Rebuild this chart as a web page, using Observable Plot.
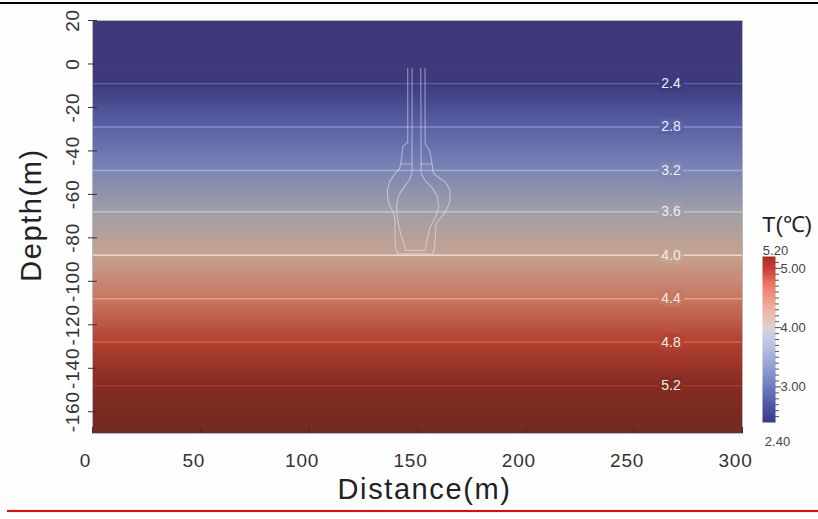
<!DOCTYPE html>
<html><head><meta charset="utf-8">
<script src="https://cdn.jsdelivr.net/npm/d3@7"></script>
<script src="https://cdn.jsdelivr.net/npm/@observablehq/plot@0.6"></script>
<style>
body{margin:0;background:#fefefe;}
#wrap{position:relative;width:818px;height:519px;overflow:hidden;font-family:"Liberation Sans",Arial,sans-serif;}
#topline{position:absolute;left:0;top:2px;width:818px;height:2px;background:#000;}
#botline{position:absolute;left:7px;top:510px;width:811px;height:2px;background:#ff0000;}
#main{position:absolute;left:0;top:0;}
#cbar{position:absolute;left:740px;top:200px;}
</style>
</head><body>
<div id="wrap"><div id="main"></div><div id="cbar"></div><div id="topline"></div><div id="botline"></div></div>
<script>
// ---- data ----
const xTicks = [0, 50, 100, 150, 200, 250, 300];
const yTicks = [20, 0, -20, -40, -60, -80, -100, -120, -140, -160];

// vertical temperature profile (depth m -> T °C)
const profileDepth = [20, -9, -29, -49, -68, -88, -108, -128, -148, -170];
const profileTemp  = [2.2, 2.4, 2.8, 3.2, 3.6, 4.0, 4.4, 4.8, 5.2, 5.4];

// isotherms
const contourLevels = [2.4, 2.8, 3.2, 3.6, 4.0, 4.4, 4.8, 5.2];
const contourDepths = [-9, -29, -49, -68, -88, -108, -128, -148];
const contourColors = ["#6b68a8", "#8f98cc", "#a9b3da", "#cfd0d6", "#f4e0d6", "#eca48c", "#f26a50", "#b63b33"];
const labelDistance = 267;

// map colour ramp
const mapDomain = [2.2, 2.4, 2.8, 3.2, 3.6, 4.0, 4.4, 4.8, 5.2, 5.4];
const mapColors = ["#3f3878", "#3c3a7e", "#5a62a6", "#7c86b4", "#a29ea6", "#c6a290", "#c77762", "#b2412f", "#852b22", "#722a22"];

// colour bar
const cbDomain = [2.4, 2.7, 3.0, 3.4, 3.8, 4.0, 4.3, 4.7, 5.0, 5.2];
const cbColors = ["#3a3a8c", "#5058a4", "#6d7cbc", "#98a6d6", "#c4cae6", "#dcd2d0", "#f0b4a4", "#ee7c6a", "#cc3c34", "#a82a26"];
const cbMajor = [3, 4, 5];
const cbMinor = [2.5,2.6,2.7,2.8,2.9,3.1,3.2,3.3,3.4,3.5,3.6,3.7,3.8,3.9,4.1,4.2,4.3,4.4,4.5,4.6,4.7,4.8,4.9,5.1];
const cbEnds = [2.4, 5.2];

// cavern outline (distance m, depth m)
const cavernOuter = [
 [145.5, -2], [145.5, -36], [143.2, -38], [142.6, -44], [141.8, -48], [139.2, -51], [137.2, -54], [136.0, -58],
 [136.3, -62], [137.3, -65.5], [139.0, -68.5], [139.6, -72], [139.6, -80], [140.0, -85.5], [141.0, -87.3],
 [157.0, -87.3], [157.8, -85], [158.2, -80], [158.5, -74], [160.6, -71], [163.2, -67.5], [165.0, -63], [165.0, -58],
 [163.0, -54.5], [159.5, -52], [157.2, -50], [156.6, -45], [155.6, -40], [154.0, -37.5], [153.5, -36], [153.5, -2]
];
const cavernInner = [
 [147.5, -2], [147.5, -50], [146.2, -53.5], [143.5, -57], [141.3, -60.5], [140.4, -65], [140.6, -70], [141.4, -74.5],
 [142.6, -79.5], [144.8, -85.8], [153.5, -85.8], [154.6, -80], [155.6, -75.5], [158.3, -70.5], [159.8, -66],
 [159.2, -61], [156.8, -57], [153.4, -53.5], [151.7, -50.5], [151.5, -2]
];
const cavernRungs = [
 [[142.6, -46], [147.5, -46]],
 [[151.5, -46], [156.6, -46]]
];

// ---- build tables ----
const profile = profileDepth.flatMap((d, i) => [{x: 0, y: d, t: profileTemp[i]}, {x: 300, y: d, t: profileTemp[i]}]);
const contours = contourLevels.map((t, i) => ({t, y: contourDepths[i], c: contourColors[i]}));
const cavern = [cavernOuter, cavernInner, ...cavernRungs].flatMap((pts, id) => pts.map(([x, y]) => ({id, x, y})));
const cbPoints = cbEnds.flatMap(t => [{x: 0, y: t, t}, {x: 1, y: t, t}]);

const font = "'Liberation Sans', Arial, sans-serif";

const main = Plot.plot({
  width: 818, height: 519,
  marginLeft: 92, marginRight: 76, marginTop: 20, marginBottom: 86,
  x: {domain: [0, 300], axis: null},
  y: {domain: [-170, 20], axis: null},
  color: {type: "linear", domain: mapDomain, range: mapColors, clamp: true, interpolate: "rgb"},
  style: {fontFamily: font, background: "transparent", color: "#333"},
  marks: [
    Plot.raster(profile, {x: "x", y: "y", fill: "t", interpolate: "barycentric"}),
    ...contours.map(c => Plot.ruleY([c.y], {stroke: c.c, strokeWidth: 1.3, strokeOpacity: 0.85})),
    Plot.line(cavern, {x: "x", y: "y", z: "id", stroke: "#eef0ff", strokeOpacity: 0.5, strokeWidth: 1.1}),
    Plot.text(contours, {x: () => labelDistance, y: "y", text: d => d.t.toFixed(1), fill: "#f0f0f0",
      stroke: "t", strokeWidth: 7, paintOrder: "stroke", fontSize: 14}),
    Plot.frame({stroke: "#b8b8c8", strokeWidth: 1}),
    Plot.axisY(yTicks, {tickSize: 9, dx: 5, tickFormat: () => "", label: null, stroke: "#333"}),
    Plot.axisX(xTicks, {tickSize: 6, dy: -6, tickFormat: () => "", label: null, stroke: "#333"}),
    Plot.text(yTicks, {y: d => d, frameAnchor: "left", text: d => String(d), rotate: -90, dx: -20,
      textAnchor: "middle", lineAnchor: "middle", fontSize: 19, fill: "#333"}),
    Plot.text(xTicks, {x: d => d, frameAnchor: "bottom", text: d => String(d), dy: 27, dx: -7,
      lineAnchor: "middle", fontSize: 19, fill: "#333"}),
    Plot.text(["Distance(m)"], {frameAnchor: "bottom", dy: 65, dx: 7, lineAnchor: "bottom", fontSize: 29, fill: "#222"}),
    Plot.text(["Depth(m)"], {frameAnchor: "left", rotate: -90, dx: -52, dy: -12, lineAnchor: "bottom", textAnchor: "middle", fontSize: 29, fill: "#222"})
  ]
});
d3.select(main).selectAll("text").filter(function() {
  const s = this.textContent; return s === "Distance(m)" || s === "Depth(m)";
}).attr("letter-spacing", "1.6px");
d3.select(main).selectAll("text").filter(function() { return /^-?\d+$/.test(this.textContent); }).attr("letter-spacing", "0.8px");
document.getElementById("main").append(main);

const cb = Plot.plot({
  width: 78, height: 250,
  marginTop: 56, marginBottom: 28, marginLeft: 22, marginRight: 43,
  x: {domain: [0, 1], axis: null},
  y: {domain: [2.4, 5.2], axis: null},
  color: {type: "linear", domain: cbDomain, range: cbColors, clamp: true, interpolate: "rgb"},
  style: {fontFamily: font, background: "transparent", color: "#444"},
  marks: [
    Plot.raster(cbPoints, {x: "x", y: "y", fill: "t", interpolate: "barycentric"}),
    Plot.axisY(cbMinor, {anchor: "right", tickSize: 4, dx: -1, tickFormat: () => "", label: null, stroke: "#555"}),
    Plot.axisY(cbMajor, {anchor: "right", tickSize: 6, dx: -1, tickPadding: 0, tickFormat: d => d.toFixed(2),
      label: null, fontSize: 13, color: "#444"}),
    Plot.text([cbEnds[1]], {x: () => 1, y: d => d, text: d => d.toFixed(2), dy: -6, lineAnchor: "middle", fontSize: 13, fill: "#444"}),
    Plot.text([cbEnds[0]], {x: () => 1, y: d => d, text: d => d.toFixed(2), dx: 2, dy: 19, lineAnchor: "middle", fontSize: 13, fill: "#444"}),
    Plot.text(["T(℃)"], {frameAnchor: "top", dx: 18, dy: -32, lineAnchor: "middle", fontSize: 22, fill: "#222"})
  ]
});
document.getElementById("cbar").append(cb);
</script>
</body></html>
